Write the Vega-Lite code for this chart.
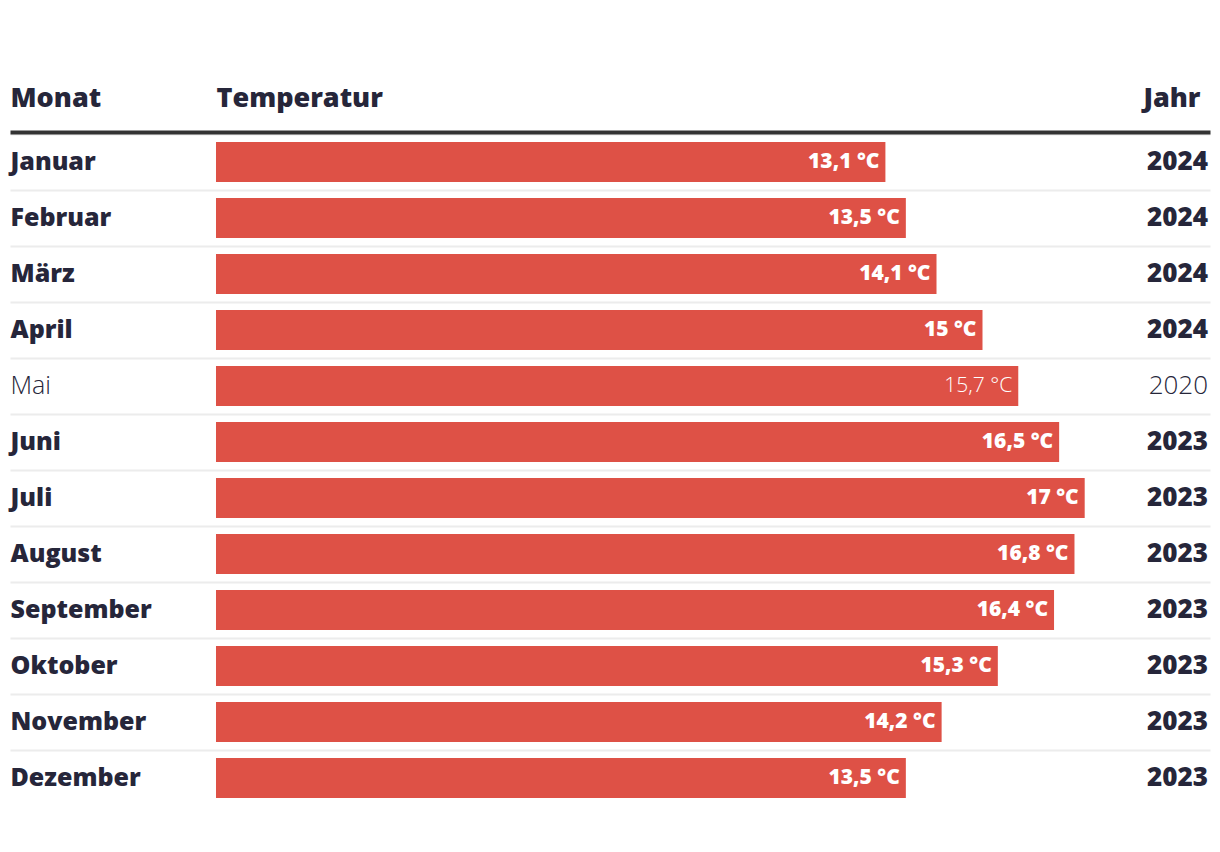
{
  "$schema": "https://vega.github.io/schema/vega-lite/v6.json",
  "width": 1200,
  "height": 672,
  "autosize": {"type": "none"},
  "padding": {"left": 10, "top": 134, "right": 10, "bottom": 46},
  "background": "white",
  "config": {"view": {"stroke": null}, "font": "Open Sans"},
  "data": {
    "values": [
      {"Monat": "Januar", "Temperatur": 13.1, "Label": "13,1 °C", "Jahr": "2024"},
      {"Monat": "Februar", "Temperatur": 13.5, "Label": "13,5 °C", "Jahr": "2024"},
      {"Monat": "März", "Temperatur": 14.1, "Label": "14,1 °C", "Jahr": "2024"},
      {"Monat": "April", "Temperatur": 15, "Label": "15 °C", "Jahr": "2024"},
      {"Monat": "Mai", "Temperatur": 15.7, "Label": "15,7 °C", "Jahr": "2020"},
      {"Monat": "Juni", "Temperatur": 16.5, "Label": "16,5 °C", "Jahr": "2023"},
      {"Monat": "Juli", "Temperatur": 17, "Label": "17 °C", "Jahr": "2023"},
      {"Monat": "August", "Temperatur": 16.8, "Label": "16,8 °C", "Jahr": "2023"},
      {"Monat": "September", "Temperatur": 16.4, "Label": "16,4 °C", "Jahr": "2023"},
      {"Monat": "Oktober", "Temperatur": 15.3, "Label": "15,3 °C", "Jahr": "2023"},
      {"Monat": "November", "Temperatur": 14.2, "Label": "14,2 °C", "Jahr": "2023"},
      {"Monat": "Dezember", "Temperatur": 13.5, "Label": "13,5 °C", "Jahr": "2023"}
    ]
  },
  "encoding": {
    "y": {
      "field": "Monat",
      "type": "nominal",
      "sort": null,
      "scale": {"paddingInner": 0, "paddingOuter": 0},
      "axis": {
        "orient": "left",
        "title": null,
        "domain": false,
        "ticks": false,
        "tickSize": 0,
        "labelPadding": 0,
        "labelAlign": "left",
        "labelBaseline": "middle",
        "labelFontSize": 25,
        "labelFontWeight": {"condition": {"test": "datum.value === 'Mai'", "value": 300}, "value": 800},
        "labelColor": "#26263a",
        "grid": true,
        "gridColor": "#ececec",
        "gridWidth": 2,
        "bandPosition": 0
      }
    }
  },
  "layer": [
    {
      "mark": {"type": "bar", "color": "#de5146", "height": {"band": 0.714}},
      "encoding": {
        "x": {
          "field": "Temperatur",
          "type": "quantitative",
          "scale": {"domain": [-4.0313, 19.4521], "zero": false, "nice": false},
          "axis": {
            "orient": "top",
            "title": null,
            "offset": 2,
            "values": [-4.0313, 0, 19.256],
            "labelExpr": "datum.value < -1 ? 'Monat' : (datum.value < 1 ? 'Temperatur' : 'Jahr')",
            "ticks": false,
            "grid": false,
            "domainColor": "#333333",
            "domainWidth": 4,
            "labelFontSize": 27,
            "labelFontWeight": 800,
            "labelColor": "#26263a",
            "labelAlign": {"condition": {"test": "datum.value > 10", "value": "right"}, "value": "left"},
            "labelBaseline": "alphabetic",
            "labelPadding": 26,
            "labelFlush": false,
            "labelBound": false,
            "labelOverlap": false
          }
        }
      }
    },
    {
      "transform": [{"filter": "datum.Jahr >= 2023"}],
      "mark": {"type": "text", "align": "right", "baseline": "middle", "dx": -6, "color": "white", "fontSize": 21, "fontWeight": 800},
      "encoding": {
        "x": {"field": "Temperatur", "type": "quantitative"},
        "text": {"field": "Label", "type": "nominal"}
      }
    },
    {
      "transform": [{"filter": "datum.Jahr < 2023"}],
      "mark": {"type": "text", "align": "right", "baseline": "middle", "dx": -6, "color": "white", "fontSize": 21, "fontWeight": 300},
      "encoding": {
        "x": {"field": "Temperatur", "type": "quantitative"},
        "text": {"field": "Label", "type": "nominal"}
      }
    },
    {
      "transform": [{"filter": "datum.Jahr >= 2023"}],
      "mark": {"type": "text", "align": "right", "baseline": "middle", "color": "#26263a", "fontSize": 26, "fontWeight": 800},
      "encoding": {
        "x": {"datum": 19.413, "type": "quantitative"},
        "text": {"field": "Jahr", "type": "nominal"}
      }
    },
    {
      "transform": [{"filter": "datum.Jahr < 2023"}],
      "mark": {"type": "text", "align": "right", "baseline": "middle", "color": "#26263a", "fontSize": 26, "fontWeight": 300},
      "encoding": {
        "x": {"datum": 19.413, "type": "quantitative"},
        "text": {"field": "Jahr", "type": "nominal"}
      }
    }
  ]
}
